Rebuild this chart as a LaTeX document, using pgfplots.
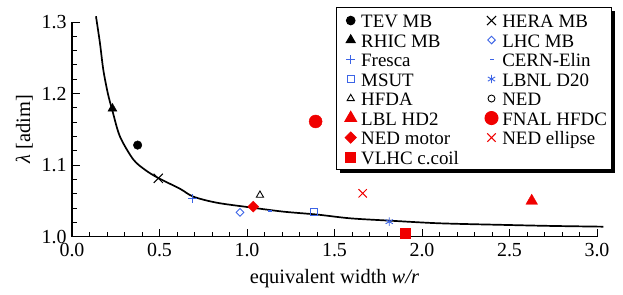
\documentclass[border=0pt]{standalone}
\usepackage{fontspec}
\setmainfont{Liberation Serif}
\usepackage{pgfplots}
\pgfplotsset{compat=1.18}
\usetikzlibrary{shadows}
\definecolor{mblue}{RGB}{60,100,230}
\definecolor{mred}{RGB}{240,0,0}
\newcommand{\tickf}{\fontsize{20}{22}\selectfont}
\newcommand{\labf}{\fontsize{20.5}{23}\selectfont}
\newcommand{\legf}{\fontsize{19}{20}\selectfont}
\begin{document}
\begin{tikzpicture}
\useasboundingbox (-72bp,-58.3bp) rectangle (551bp,236.7bp);
\begin{axis}[
 scale only axis, width=525bp, height=214.7bp,
 xmin=0, xmax=3, ymin=1, ymax=1.3,
 axis x line=bottom, axis y line=left,
 axis line style={-, line width=1.1bp},
 clip=false,
 xtick={0,0.5,1,1.5,2,2.5,3}, ytick={1,1.1,1.2,1.3},
 minor x tick num=4, minor y tick num=4,
 tick align=inside,
 major tick length=8bp, minor tick length=5bp,
 tick style={black, line width=0.9bp},
 /pgf/number format/assume math mode=true,
 ticklabel style={font=\tickf},
 xticklabel style={yshift=-3.5bp, /pgf/number format/.cd, fixed, fixed zerofill, precision=1},
 yticklabel style={xshift=-2bp, /pgf/number format/.cd, fixed, fixed zerofill, precision=1},
 xlabel={equivalent width \textit{w/r}},
 ylabel={{\itshape λ} [adim]},
 label style={font=\labf},
 xlabel style={yshift=-5bp},
 ylabel style={yshift=2bp},
 legend columns=2,
 legend cell align=left,
 legend image code/.code={\path (-9.7bp,0bp) (9bp,0bp); \draw[#1] plot coordinates {(0bp,0bp)};},
 legend style={at={(0.5029,1.0685)}, anchor=north west, draw=black, line width=1bp, fill=white,
   drop shadow={shadow xshift=3bp, shadow yshift=-3bp, fill=black, opacity=1},
   font=\legf,
   inner xsep=4bp, inner ysep=3bp, row sep=0bp,
   nodes={inner xsep=1bp, inner ysep=0.5bp, text height=16.5bp, text depth=2bp},
   /tikz/every even column/.append style={column sep=21bp}},
]
\addplot[black, line width=1.7bp, smooth, forget plot] coordinates {
(0.137,1.308) (0.16,1.270) (0.179,1.233) (0.205,1.200) (0.231,1.176) (0.274,1.140)
(0.35,1.108) (0.42,1.093) (0.493,1.082) (0.617,1.067) (0.693,1.056) (0.827,1.0475)
(1.017,1.041) (1.208,1.035) (1.398,1.031) (1.589,1.0257) (1.817,1.0224) (2.103,1.0187)
(2.484,1.0164) (2.75,1.015) (3.036,1.014)};
% TEV MB
\addplot[only marks, mark=*, black, mark size=4.3bp] coordinates {(0.375,1.128)};
\addlegendentry{TEV MB}
% HERA MB
\addplot[only marks, mark=x, black, mark size=6.5bp, line width=1bp] coordinates {(0.493,1.0816)};
\addlegendentry{HERA MB}
% RHIC MB
\addplot[only marks, mark=triangle*, black, mark size=5.2bp] coordinates {(0.231,1.179)};
\addlegendentry{RHIC MB}
% LHC MB
\addplot[only marks, mark=square, mblue, mark size=2.7bp, line width=0.9bp, mark options={rotate=45}] coordinates {(0.96,1.034)};
\addlegendentry{LHC MB}
% Fresca
\addplot[only marks, mark=+, mblue, mark size=4.5bp, line width=0.9bp] coordinates {(0.689,1.0537)};
\addlegendentry{Fresca}
% CERN-Elin
\addplot[only marks, mark=-, mblue, mark size=2bp, line width=1.6bp] coordinates {(1.131,1.036)};
\addlegendentry{CERN-Elin}
% MSUT
\addplot[only marks, mark=square, mblue, mark size=3.5bp, line width=0.9bp] coordinates {(1.385,1.034)};
\addlegendentry{MSUT}
% LBNL D20
\addplot[only marks, mark=asterisk, mblue, mark size=4.2bp, line width=0.9bp] coordinates {(1.813,1.021)};
\addlegendentry{LBNL D20}
% HFDA
\addplot[only marks, mark=triangle, black, mark size=4.2bp, line width=0.9bp] coordinates {(1.074,1.058)};
\addlegendentry{HFDA}
% NED (no point visible in the plot)
\addlegendimage{only marks, mark=o, black, mark size=3.5bp, line width=0.9bp}
\addlegendentry{NED}
% LBL HD2
\addplot[only marks, mark=triangle*, mred, mark size=6.7bp] coordinates {(2.627,1.050)};
\addlegendentry{LBL HD2}
% FNAL HFDC
\addplot[only marks, mark=*, mred, mark size=6.5bp] coordinates {(1.392,1.161)};
\addlegendentry{FNAL HFDC}
% NED motor
\addplot[only marks, mark=square*, mred, mark size=3.9bp, mark options={rotate=45}] coordinates {(1.036,1.042)};
\addlegendentry{NED motor}
% NED ellipse
\addplot[only marks, mark=x, mred, mark size=5.9bp, line width=1bp] coordinates {(1.661,1.0606)};
\addlegendentry{NED ellipse}
% VLHC c.coil
\addplot[only marks, mark=square*, mred, mark size=5bp] coordinates {(1.903,1.0047)};
\addlegendentry{VLHC c.coil}
\end{axis}
\end{tikzpicture}
\end{document}
